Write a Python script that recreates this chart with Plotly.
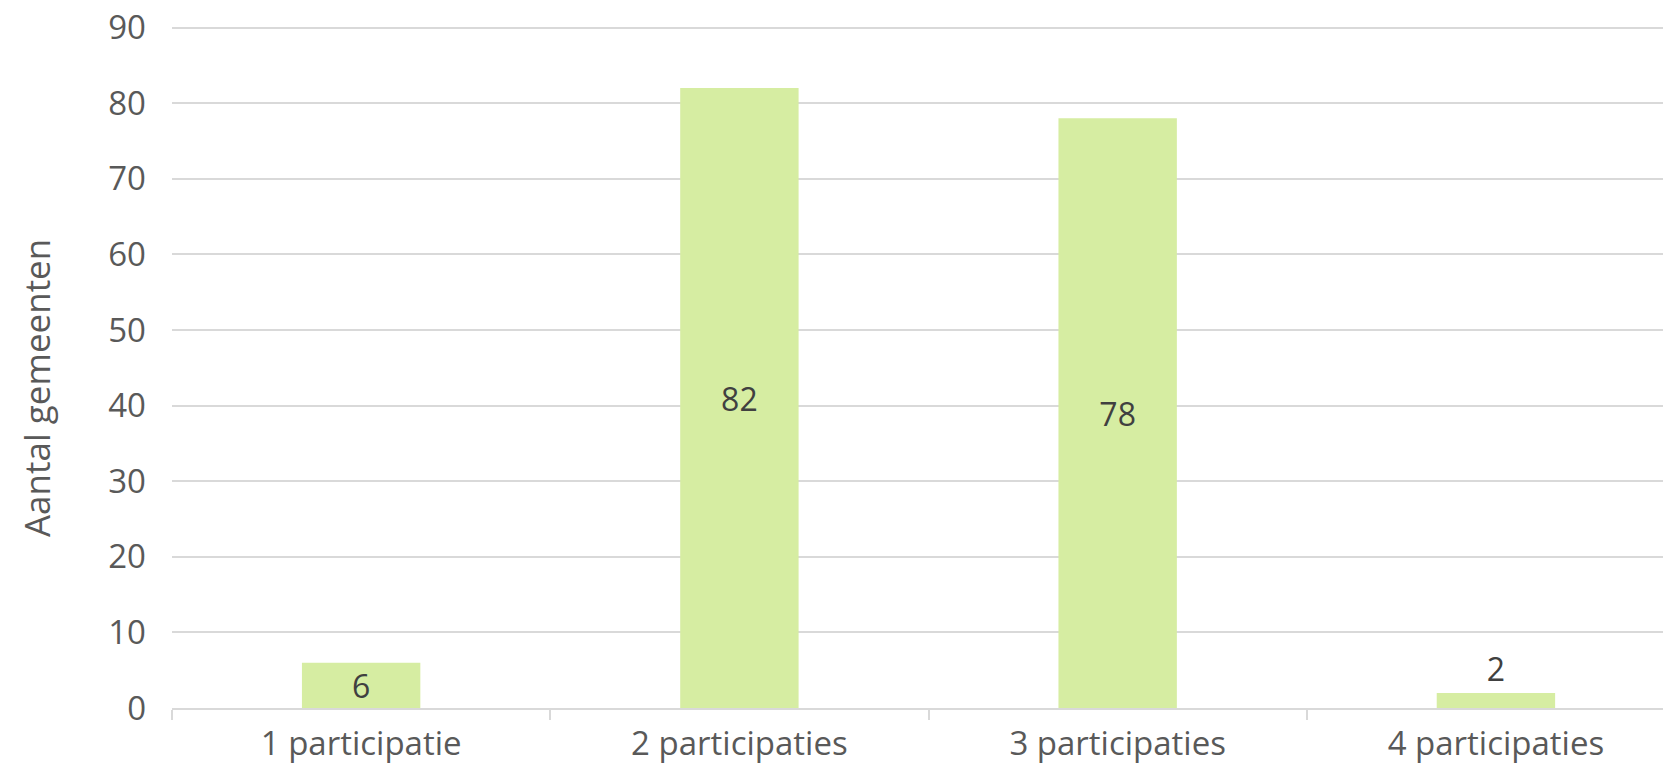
import plotly.graph_objects as go

categories = ["1 participatie", "2 participaties", "3 participaties", "4 participaties"]
values = [6, 82, 78, 2]
y_ticks = [0, 10, 20, 30, 40, 50, 60, 70, 80, 90]
y_title = "Aantal gemeenten"

FONT = "Open Sans"

fig = go.Figure(
    go.Bar(
        x=categories,
        y=values,
        marker=dict(color="#D6EDA2", line=dict(width=0)),
        text=[str(v) for v in values],
        textposition=["inside", "inside", "inside", "outside"],
        insidetextanchor="middle",
        textangle=0,
        constraintext="none",
        textfont=dict(family=FONT, size=32, color="#404040"),
        outsidetextfont=dict(family=FONT, size=32, color="#404040"),
        cliponaxis=False,
        width=0.313,
    )
)

fig.update_layout(
    width=1671,
    height=767,
    margin=dict(l=164, r=0, t=12, b=67, pad=0),
    paper_bgcolor="white",
    plot_bgcolor="white",
    showlegend=False,
    font=dict(family=FONT, color="#595959"),
    uniformtext=dict(mode=False),
)

fig.add_annotation(
    text=y_title,
    textangle=-90,
    xref="paper",
    yref="paper",
    x=0,
    y=0.465,
    xanchor="center",
    yanchor="middle",
    xshift=-136,
    showarrow=False,
    font=dict(family=FONT, size=35, color="#595959"),
)

fig.update_yaxes(
    range=[0, 91],
    tickvals=y_ticks,
    showgrid=True,
    gridcolor="#D9D9D9",
    gridwidth=1.5,
    zeroline=False,
    showline=False,
    automargin=False,
    ticklabeloverflow="allow",
    tickfont=dict(family=FONT, size=33, color="#595959"),
    ticklabelstandoff=25,
)

fig.update_xaxes(
    range=[-0.5, 3.484],
    showline=True,
    linecolor="#D9D9D9",
    linewidth=1.5,
    ticks="outside",
    tickson="boundaries",
    ticklen=10,
    tickcolor="#D9D9D9",
    tickwidth=1.5,
    showgrid=False,
    automargin=False,
    ticklabeloverflow="allow",
    ticklabelstandoff=6,
    tickfont=dict(family=FONT, size=33, color="#595959"),
)

fig.write_html("out.html")
